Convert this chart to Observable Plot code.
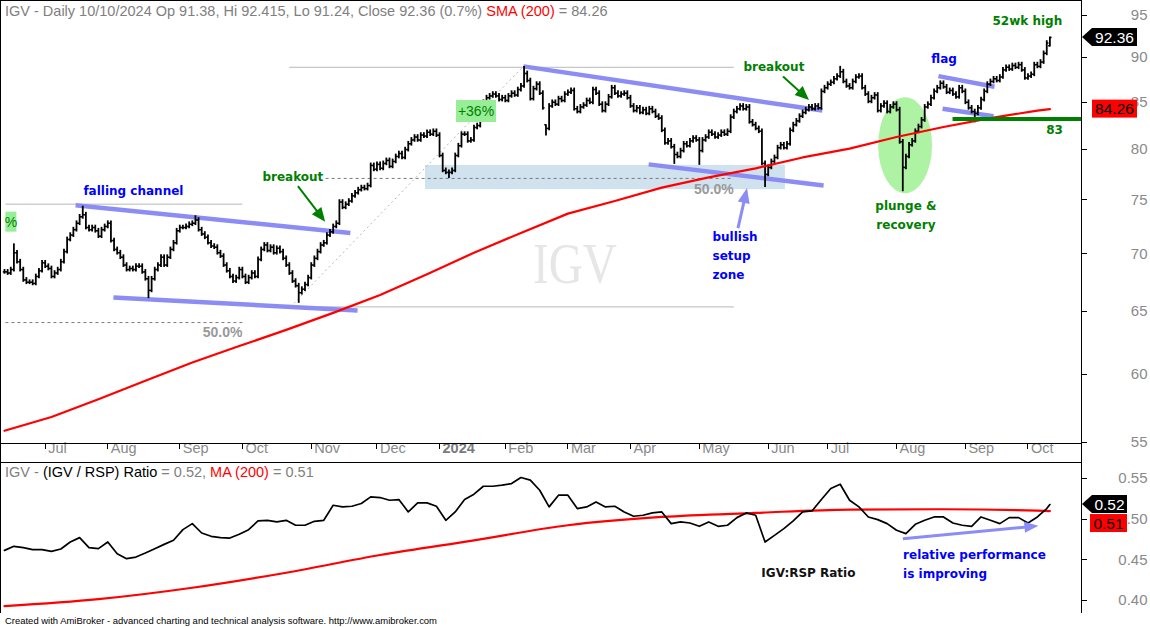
<!DOCTYPE html>
<html><head><meta charset="utf-8">
<script src="https://cdn.jsdelivr.net/npm/d3@7"></script>
<script src="https://cdn.jsdelivr.net/npm/@observablehq/plot@0.6"></script>
<style>
html,body{margin:0;padding:0;background:#fff;}
#wrap{position:relative;width:1150px;height:627px;overflow:hidden;background:#fff;}
#wrap svg{position:absolute;left:0;}
</style></head><body><div id="wrap"></div>
<script>
// ---------------- DATA ----------------
const ticker = "IGV";
const firstDay = "2023-06-13", lastDay = "2024-10-10";
const holidays = ["2023-06-19","2023-07-04","2023-09-04","2023-11-23","2023-12-25","2024-01-01","2024-01-15","2024-02-19","2024-03-29","2024-05-27","2024-06-19","2024-07-04","2024-09-02"];

// daily closes
const close2023 = [
 68.4,68.3,68.6,70.1,69.3,68.6,67.7,67.5,67.5,67.4,68.0,68.5,69.2,
 68.9,68.7,68.0,68.3,68.6,69.3,70.2,71.3,71.7,72.2,72.8,73.4,73.6,72.4,72.2,72.4,72.1,71.6,72.2,72.5,
 72.8,71.2,70.4,70.1,69.7,69.0,68.6,68.7,68.6,68.9,68.9,68.4,67.8,66.8,67.8,68.6,69.0,69.7,69.0,69.7,70.4,71.0,72.1,
 72.4,72.4,72.5,72.7,72.8,73.1,72.2,71.8,71.5,71.0,70.7,70.6,70.1,69.8,69.0,68.5,68.0,67.6,67.9,68.6,
 68.0,67.5,67.9,68.3,68.0,69.5,70.4,70.8,70.3,70.6,70.1,70.5,70.2,69.6,69.0,68.3,67.6,67.2,66.6,66.9,67.3,67.9,
 69.0,69.6,70.2,70.8,71.0,71.7,72.0,72.5,72.8,74.8,74.3,74.6,74.9,75.4,75.7,76.0,76.2,76.1,76.4,78.4,78.0,
 78.5,78.1,78.6,78.9,78.3,78.8,79.3,79.6,79.2,80.0,80.6,81.0,81.3,81.0,81.5,81.4,81.8,81.6,81.9,81.5
];
const close2024 = [
 79.4,77.9,77.7,77.7,77.9,79.4,80.4,81.6,81.6,80.9,81.0,82.3,82.5,84.6,85.0,85.5,85.7,85.9,85.7,85.3,85.5,
 85.2,85.7,86.0,85.8,86.4,86.8,88.2,87.4,85.4,86.5,87.0,86.0,84.4,82.2,84.6,85.0,84.8,85.4,85.2,85.9,
 86.1,86.3,84.3,84.0,84.5,84.7,85.2,85.0,86.4,86.0,84.8,84.1,84.8,85.6,86.6,86.0,85.7,85.9,86.0,85.5,
 84.6,84.1,84.4,83.9,84.2,83.8,84.3,84.0,83.5,83.3,82.0,80.7,80.9,80.3,79.5,79.3,79.9,80.6,80.4,80.9,81.2,81.0,
 79.9,81.0,81.3,81.8,81.6,81.3,81.5,81.8,81.6,81.9,83.4,84.0,84.3,84.6,84.3,84.5,82.9,82.6,82.2,81.9,78.6,77.5,
 78.2,78.8,79.2,80.2,80.5,80.2,80.6,82.0,82.6,83.0,83.5,83.9,84.2,84.5,84.3,84.6,84.4,86.2,86.6,
 87.0,87.2,87.6,87.9,88.4,87.3,86.8,86.6,87.3,87.8,87.9,86.6,85.9,85.1,85.5,85.8,84.1,84.6,84.9,84.0,84.5,84.8,
 84.2,80.8,78.2,79.3,80.5,80.9,81.9,82.4,83.1,84.5,84.8,85.5,86.2,86.6,87.1,86.7,86.1,86.3,85.9,85.6,86.6,86.2,
 85.0,84.4,84.0,83.8,84.4,85.3,86.2,87.0,87.3,87.6,87.4,87.8,88.6,88.9,88.7,89.1,88.9,89.2,88.6,87.7,
 87.9,88.1,89.2,89.0,89.5,90.5,91.7,92.36
];
// notable lows / highs: [date, low, high]
const extremes = [
 ["2023-06-16",null,70.9],["2023-07-20",null,74.4],["2023-08-18",66.1,null],["2023-09-11",null,73.5],
 ["2023-10-26",65.7,null],["2024-01-05",77.1,null],["2024-02-09",null,89.0],["2024-02-21",81.4,82.6],
 ["2024-04-19",78.5,null],["2024-05-01",78.4,null],["2024-05-31",76.2,null],["2024-07-08",null,89.0],
 ["2024-08-05",75.8,null],["2024-09-06",82.8,null],["2024-10-10",91.24,92.415]
];
const lastOpen = 91.38, lastChange = "0.7%";
// SMA(200) of price, read every 15 bars (last value = final bar)
const smaStep = 15;
const sma200 = [55.8,56.8,58.1,59.5,60.9,62.2,63.5,64.9,66.4,68.2,70.1,71.9,73.7,74.9,76.2,77.2,78.1,79.2,80.1,81.3,82.35,83.3,84.1,84.26];
// IGV/RSP ratio read every 3 bars (last value = final bar)
const ratioStep = 3;
const ratio = [
 0.4616,0.4666,0.465,0.4625,0.4625,0.4604,0.4633,0.4719,0.4773,0.465,
 0.4637,0.4719,0.4575,0.4514,0.4534,0.4583,0.4637,0.469,0.474,0.4871,
 0.4945,0.483,0.4789,0.4773,0.4768,0.4814,0.4871,0.4978,0.4986,0.4966,
 0.4986,0.4925,0.4925,0.4974,0.4986,0.5171,0.5151,0.5159,0.5192,0.5274,
 0.5266,0.5233,0.5241,0.5089,0.52,0.52,0.5159,0.4986,0.5089,0.5241,
 0.5307,0.5405,0.5405,0.5418,0.5438,0.5512,0.548,0.5356,0.5151,0.5295,
 0.5295,0.513,0.5151,0.5212,0.5151,0.5159,0.5089,0.5036,0.5048,0.5077,
 0.5089,0.4945,0.4966,0.4953,0.4912,0.4966,0.4912,0.4925,0.5019,0.5077,
 0.5048,0.4719,0.4801,0.4883,0.4978,0.5089,0.5101,0.5241,0.5377,0.543,
 0.5233,0.5151,0.5027,0.4994,0.4945,0.4863,0.4822,0.4937,0.4986,0.5027,
 0.5027,0.4953,0.4925,0.4912,0.5027,0.4986,0.4945,0.5019,0.5019,0.4953,
 0.5027,0.513,0.518
];
// MA(200) of ratio, read every 30 bars (last value = final bar)
const ratioMAStep = 30;
const ratioMA = [0.393,0.4016,0.4156,0.4341,0.4559,0.474,0.4925,0.5027,0.5077,0.5118,0.5122,0.5105,0.510];
const priceTicks = [55,60,65,70,75,80,85,90,95];
const ratioTicks = [0.40,0.45,0.50,0.55];
const monthNames = ["Jan","Feb","Mar","Apr","May","Jun","Jul","Aug","Sep","Oct","Nov","Dec"];

// ---------------- BUILD ----------------
const dates = [];
for (let d = new Date(firstDay + "T00:00:00Z"); d <= new Date(lastDay + "T00:00:00Z"); d.setUTCDate(d.getUTCDate() + 1)) {
  const s = d.toISOString().slice(0, 10), wd = d.getUTCDay();
  if (wd === 0 || wd === 6 || holidays.includes(s)) continue;
  dates.push(s);
}
const closes = close2023.concat(close2024);
const off = dates.length - closes.length;
const N = closes.length;
const ext = new Map(extremes.map(e => [dates.indexOf(e[0]) - off, e]));
const bars = closes.map((c, i) => {
  let o = i === N - 1 ? lastOpen : (i ? closes[i - 1] : c);
  let hi = Math.max(o, c) * 1.003, lo = Math.min(o, c) * 0.997;
  const e = ext.get(i);
  if (e) { if (e[1] != null) lo = e[1]; if (e[2] != null) hi = e[2]; o = Math.min(Math.max(o, lo), hi); }
  return {i, o, c, hi, lo};
});
const smaData = sma200.map((v, k) => ({i: Math.min(k * smaStep, N - 1), v}));
const ratioData = ratio.map((r, k) => ({i: Math.min(k * ratioStep, N - 1), r}));
const ratioMAData = ratioMA.map((r, k) => ({i: Math.min(k * ratioMAStep, N - 1), r}));
const months = [];
for (let i = 1; i < N; i++) {
  const a = dates[i - 1 + off], b = dates[i + off];
  if (a.slice(5, 7) !== b.slice(5, 7)) {
    const m = +b.slice(5, 7) - 1;
    months.push({i, label: m === 0 ? b.slice(0, 4) : monthNames[m], year: m === 0});
  }
}
const lastClose = closes[N - 1], lastSMA = sma200[sma200.length - 1];
const lastRatio = ratio[ratio.length - 1], lastRatioMA = ratioMA[ratioMA.length - 1];

// ---------------- ANNOTATIONS (data coordinates: bar index, value) ----------------
const setupZone = [{i1: 134.5, i2: 249.5, p1: 76.0, p2: 78.4}];
const plungeEllipse = {i1: 279.3, i2: 296.5, p1: 75.6, p2: 85.5};
const retSolid = [
  {i1: 0.3, i2: 76, p1: 74.6, p2: 74.6}, {i1: 91, i2: 233, p1: 88.9, p2: 88.9}, {i1: 91, i2: 233, p1: 65.4, p2: 65.4}
];
const retDashed = [{i1: 0.3, i2: 76, p1: 64.1, p2: 64.1}, {i1: 102.6, i2: 233, p1: 77.1, p2: 77.1}];
const retDiag = [{i1: 91.4, p1: 65.4, i2: 165.5, p2: 88.9}];
const retLabels = [{i: 76, p: 63.3, t: "50.0%"}, {i: 233, p: 76.0, t: "50.0%"}];
const trendLines = [
  {i1: 22.7, p1: 74.5, i2: 110.5, p2: 71.9}, {i1: 34.8, p1: 66.2, i2: 112.8, p2: 65.1},
  {i1: 165.8, p1: 89.0, i2: 261.3, p2: 84.1}, {i1: 205.8, p1: 78.5, i2: 261.7, p2: 76.4},
  {i1: 298.4, p1: 87.9, i2: 316.3, p2: 86.7}, {i1: 299.7, p1: 84.3, i2: 316.0, p2: 83.5}
];
const support = [{i1: 302.9, i2: 344.1, p: 83.2}];
const topArrows = [
  {i1: 93.9, v1: 76.3, i2: 102.6, v2: 72.9, color: "#008000", w: 2, head: 14, headW: 12},
  {i1: 248.9, v1: 87.8, i2: 257.2, v2: 85.2, color: "#008000", w: 2, head: 14, headW: 12},
  {i1: 234.5, v1: 72.3, i2: 237.4, v2: 76.1, color: "#8c8cf5", w: 3, head: 15, headW: 12}
];
const lowArrows = [{i1: 287.2, v1: 0.4752, i2: 330.5, v2: 0.4912, color: "#8c8cf5", w: 3, head: 14, headW: 11}];
const boxes = [{i: 150.8, p: 84.0, t: "+36%", w: 40, h: 22}, {i: 2.2, p: 72.9, t: "%", w: 11, h: 20}];
const blueStart = [{i: 25.2, p: 75.9, t: "falling channel"}, {i: 226.2, p: 71.5, t: "bullish"}, {i: 226.2, p: 69.8, t: "setup"}, {i: 226.2, p: 68.1, t: "zone"}];
const blueMid = [{i: 300.2, p: 89.8, t: "flag"}];
const greenStart = [{i: 82.4, p: 77.2, t: "breakout"}, {i: 236.1, p: 88.95, t: "breakout"}];
const greenMid = [{i: 288, p: 74.4, t: "plunge &"}, {i: 288, p: 72.6, t: "recovery"}, {i: 326.8, p: 94.3, t: "52wk high"}, {i: 335.5, p: 82.0, t: "83"}];
const lowBlack = [{i: 241.8, r: 0.4332, t: "IGV:RSP Ratio"}];
const lowBlue = [{i: 287.1, r: 0.4555, t: "relative performance"}, {i: 287.1, r: 0.432, t: "is improving"}];

// ---------------- DRAW ----------------
const F = "'Liberation Sans', Arial, sans-serif";
const FB = "'DejaVu Sans', Verdana, sans-serif";
const xDomain = [-1.28, 344.1];
const GRAY = "#8a8a8a";

function arrowsMark(list) {
  return (index, {x, y}) => {
    const g = d3.create("svg:g");
    for (const a of list) {
      const x1 = x(a.i1), y1 = y(a.v1), x2 = x(a.i2), y2 = y(a.v2);
      const ang = Math.atan2(y2 - y1, x2 - x1), c = Math.cos(ang), s = Math.sin(ang);
      const bx = x2 - a.head * c, by = y2 - a.head * s, W = a.headW / 2;
      g.append("line").attr("x1", x1).attr("y1", y1).attr("x2", bx + 2 * c).attr("y2", by + 2 * s)
        .attr("stroke", a.color).attr("stroke-width", a.w);
      g.append("polygon").attr("fill", a.color)
        .attr("points", `${x2},${y2} ${bx - W * s},${by + W * c} ${bx + W * s},${by - W * c}`);
    }
    return g.node();
  };
}
function ticksMark(values, x0) {
  return (index, {y}) => {
    const g = d3.create("svg:g").attr("stroke", "#000");
    for (const v of values) g.append("line").attr("x1", x0).attr("x2", x0 + 6).attr("y1", Math.round(y(v)) + 0.5).attr("y2", Math.round(y(v)) + 0.5);
    return g.node();
  };
}
function tagMark(val, color, textColor, arrow, x0, x1, minY) {
  return (index, {y}) => {
    let cy = y(val);
    if (minY) cy = Math.max(cy, minY(y));
    const g = d3.create("svg:g");
    const h = 18;
    if (arrow) {
      g.append("polygon").attr("fill", color)
        .attr("points", `${x0},${cy} ${x0 + 10},${cy - h / 2} ${x1},${cy - h / 2} ${x1},${cy + h / 2} ${x0 + 10},${cy + h / 2}`);
    } else {
      g.append("rect").attr("fill", color).attr("x", x0).attr("y", cy - h / 2).attr("width", x1 - x0).attr("height", h);
    }
    g.append("text").attr("x", arrow ? (x0 + 10 + x1) / 2 : (x0 + x1) / 2).attr("y", cy).attr("dy", "0.36em")
      .attr("text-anchor", "middle").attr("fill", textColor).attr("font-family", F).attr("font-size", 15.5).text(val.toFixed(2));
    return g.node();
  };
}

const topPlot = Plot.plot({
  width: 1150, height: 462,
  marginLeft: 0, marginRight: 69, marginTop: 0, marginBottom: 19,
  x: {type: "linear", domain: xDomain, axis: null},
  y: {type: "log", domain: [54.9, 96.84], axis: null},
  style: {background: "transparent", overflow: "visible", fontFamily: F},
  marks: [
    Plot.rect(setupZone, {x1: "i1", x2: "i2", y1: "p1", y2: "p2", fill: "#cfe2ee"}),
    (index, {x, y}) => {
      const e = plungeEllipse;
      return d3.create("svg:ellipse").attr("cx", (x(e.i1) + x(e.i2)) / 2).attr("cy", (y(e.p1) + y(e.p2)) / 2)
        .attr("rx", (x(e.i2) - x(e.i1)) / 2).attr("ry", (y(e.p1) - y(e.p2)) / 2).attr("fill", "#aef3a4").node();
    },
    (index, {x, y}) => d3.create("svg:text").attr("x", x(182.4)).attr("y", y(69.2)).attr("dy", "0.36em")
      .attr("text-anchor", "middle").attr("font-family", "'Liberation Serif', serif").attr("font-size", 58)
      .attr("textLength", 84).attr("lengthAdjust", "spacingAndGlyphs").attr("fill", "#e6e6e6").text(ticker).node(),
    Plot.link(retSolid, {x1: "i1", x2: "i2", y1: "p1", y2: "p2", stroke: "#b8b8b8", strokeWidth: 1}),
    Plot.link(retDashed, {x1: "i1", x2: "i2", y1: "p1", y2: "p2", stroke: "#7a7a7a", strokeWidth: 1, strokeDasharray: "3,3"}),
    Plot.link(retDiag, {x1: "i1", x2: "i2", y1: "p1", y2: "p2", stroke: "#b8b8b8", strokeWidth: 1, strokeDasharray: "2,3"}),
    Plot.text(retLabels, {x: "i", y: "p", text: "t", textAnchor: "end", fill: "#999", fontWeight: "bold", fontSize: 14, fontFamily: F}),
    Plot.link(trendLines, {x1: "i1", x2: "i2", y1: "p1", y2: "p2", stroke: "#8c8cf5", strokeWidth: 4.5}),
    Plot.ruleX(bars, {x: "i", y1: "lo", y2: "hi", stroke: "#000", strokeWidth: 1.8}),
    Plot.link(bars, {x1: d => d.i - 0.55, x2: "i", y1: "o", y2: "o", stroke: "#000", strokeWidth: 1.5}),
    Plot.link(bars, {x1: "i", x2: d => d.i + 0.55, y1: "c", y2: "c", stroke: "#000", strokeWidth: 1.5}),
    Plot.line(smaData, {x: "i", y: "v", stroke: "#ff0000", strokeWidth: 2.2}),
    Plot.link(support, {x1: "i1", x2: "i2", y1: "p", y2: "p", stroke: "#008000", strokeWidth: 4}),
    arrowsMark(topArrows),
    (index, {x, y}) => {
      const g = d3.create("svg:g");
      for (const b of boxes) {
        const cx = x(b.i), cy = y(b.p);
        g.append("rect").attr("x", cx - b.w / 2).attr("y", cy - b.h / 2).attr("width", b.w).attr("height", b.h).attr("fill", "#97ee97");
        g.append("text").attr("x", cx).attr("y", cy).attr("dy", "0.36em").attr("text-anchor", "middle")
          .attr("font-family", F).attr("font-size", 14).attr("fill", "#008000").text(b.t);
      }
      return g.node();
    },
    Plot.text(blueStart, {x: "i", y: "p", text: "t", textAnchor: "start", fill: "#0000ff", fontWeight: "bold", fontSize: 12, fontFamily: FB}),
    Plot.text(blueMid, {x: "i", y: "p", text: "t", textAnchor: "middle", fill: "#0000ff", fontWeight: "bold", fontSize: 12, fontFamily: FB}),
    Plot.text(greenStart, {x: "i", y: "p", text: "t", textAnchor: "start", fill: "#008000", fontWeight: "bold", fontSize: 12, fontFamily: FB}),
    Plot.text(greenMid, {x: "i", y: "p", text: "t", textAnchor: "middle", fill: "#008000", fontWeight: "bold", fontSize: 12, fontFamily: FB}),
    // right axis
    Plot.text(priceTicks, {y: d => d, text: d => String(d), frameAnchor: "right", dx: 66, textAnchor: "end", fill: GRAY, fontSize: 15, fontFamily: F}),
    ticksMark(priceTicks, 1081),
    tagMark(lastClose, "#000", "#fff", true, 1082, 1137),
    tagMark(lastSMA, "#ff0000", "#000", false, 1092, 1137),
    // month axis
    (index, {x}) => {
      const g = d3.create("svg:g").attr("stroke", "#000");
      for (const m of months) g.append("line").attr("x1", Math.round(x(m.i)) + 0.5).attr("x2", Math.round(x(m.i)) + 0.5).attr("y1", 443).attr("y2", 449);
      return g.node();
    },
    Plot.text(months.filter(m => !m.year), {x: "i", text: "label", frameAnchor: "bottom", dy: 9.5, dx: 3, textAnchor: "start", fill: GRAY, fontSize: 14.5, fontFamily: F}),
    Plot.text(months.filter(m => m.year), {x: "i", text: "label", frameAnchor: "bottom", dy: 9.5, dx: 3, textAnchor: "start", fill: "#7a7a7a", fontWeight: "bold", fontSize: 14.5, fontFamily: F})
  ]
});
topPlot.style.top = "0px";
document.getElementById("wrap").appendChild(topPlot);

const lowPlot = Plot.plot({
  width: 1150, height: 165,
  marginLeft: 0, marginRight: 69, marginTop: 0, marginBottom: 15,
  x: {type: "linear", domain: xDomain, axis: null},
  y: {type: "linear", domain: [0.3852, 0.5697], axis: null},
  style: {background: "transparent", overflow: "visible", fontFamily: F},
  marks: [
    Plot.line(ratioMAData, {x: "i", y: "r", stroke: "#ff0000", strokeWidth: 2.2, curve: "monotone-x"}),
    Plot.line(ratioData, {x: "i", y: "r", stroke: "#000", strokeWidth: 1.7}),
    arrowsMark(lowArrows),
    Plot.text(lowBlack, {x: "i", y: "r", text: "t", textAnchor: "start", fill: "#111", fontWeight: "bold", fontSize: 12, fontFamily: FB}),
    Plot.text(lowBlue, {x: "i", y: "r", text: "t", textAnchor: "start", fill: "#0000ff", fontWeight: "bold", fontSize: 12, fontFamily: FB}),
    Plot.text(ratioTicks, {y: d => d, text: d => d.toFixed(2), frameAnchor: "right", dx: 66, textAnchor: "end", fill: GRAY, fontSize: 15, fontFamily: F}),
    ticksMark(ratioTicks, 1081),
    tagMark(lastRatio, "#000", "#fff", true, 1082, 1127),
    tagMark(lastRatioMA, "#ff0000", "#000", false, 1090, 1127, y => y(lastRatio) + 19)
  ]
});
lowPlot.style.top = "462px";
document.getElementById("wrap").appendChild(lowPlot);

// ---------------- FRAME, TITLES, FOOTER ----------------
const ov = d3.select("#wrap").append("svg").attr("width", 1150).attr("height", 627)
  .style("top", "0px").style("pointer-events", "none");
const frame = ov.append("g").attr("stroke", "#000").attr("stroke-width", 1);
frame.append("line").attr("x1", 0.5).attr("x2", 0.5).attr("y1", 0).attr("y2", 613);
frame.append("line").attr("x1", 0).attr("x2", 1081).attr("y1", 0.5).attr("y2", 0.5);
frame.append("line").attr("x1", 1081.5).attr("x2", 1081.5).attr("y1", 0).attr("y2", 613);
frame.append("line").attr("x1", 0).attr("x2", 1081).attr("y1", 443.5).attr("y2", 443.5);
frame.append("line").attr("x1", 0).attr("x2", 1081).attr("y1", 462.5).attr("y2", 462.5);

const [yy, mm, dd] = lastDay.split("-");
const b = bars[N - 1];
const t1 = ov.append("text").attr("x", 5).attr("y", 16).attr("font-family", F).attr("font-size", 14.5).style("white-space", "pre");
t1.append("tspan").attr("fill", "#808080").text(`${ticker} - Daily ${mm}/${dd}/${yy} Op ${lastOpen}, Hi ${b.hi}, Lo ${b.lo}, Close ${lastClose} (${lastChange}) `);
t1.append("tspan").attr("fill", "#ff0000").text("SMA (200)");
t1.append("tspan").attr("fill", "#808080").text(` = ${lastSMA.toFixed(2)}`);

const t2 = ov.append("text").attr("x", 5).attr("y", 477).attr("font-family", F).attr("font-size", 14.5).style("white-space", "pre");
t2.append("tspan").attr("fill", "#808080").text(`${ticker} - `);
t2.append("tspan").attr("fill", "#000").text(`(${ticker} / RSP) Ratio`);
t2.append("tspan").attr("fill", "#808080").text(` = ${lastRatio.toFixed(2)}, `);
t2.append("tspan").attr("fill", "#ff0000").text("MA (200)");
t2.append("tspan").attr("fill", "#808080").text(` = ${lastRatioMA.toFixed(2)}`);

ov.append("text").attr("x", 5).attr("y", 624).attr("font-family", F).attr("font-size", 9.5)
  .attr("textLength", 432).attr("lengthAdjust", "spacingAndGlyphs").attr("fill", "#000")
  .text("Created with AmiBroker - advanced charting and technical analysis software. http://www.amibroker.com");
</script></body></html>
